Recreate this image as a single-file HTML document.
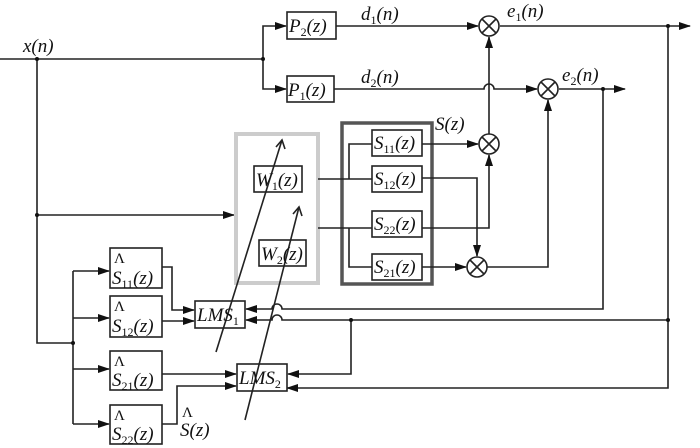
<!DOCTYPE html>
<html><head><meta charset="utf-8"><style>
html,body{margin:0;padding:0;background:#fff;width:700px;height:448px;overflow:hidden}
text{font-family:"Liberation Serif",serif;font-style:italic;font-size:19px;fill:#111}
.s{font-size:12px;font-style:normal}
</style></head><body>
<svg width="700" height="448" viewBox="0 0 700 448" xmlns="http://www.w3.org/2000/svg">
<defs>
<marker id="a" markerWidth="12" markerHeight="10" refX="11" refY="4" orient="auto" markerUnits="userSpaceOnUse">
<path d="M0,0 L12,4 L0,8 Z" fill="#111"/></marker>
</defs>
<g fill="none" stroke="#222" stroke-width="1.6">
<path d="M0,59 H263"/>
<path d="M263,59 V26 H286" marker-end="url(#a)"/>
<path d="M263,59 V89 H286" marker-end="url(#a)"/>
<rect x="287" y="12" width="49" height="27"/>
<rect x="287" y="76" width="47" height="26"/>
<path d="M336,26 H478" marker-end="url(#a)"/>
<path d="M334,89 H484 a5,5 0 0 1 10,0 H537" marker-end="url(#a)"/>
<circle cx="489" cy="26" r="10"/><path d="M482,19 L496,33 M496,19 L482,33"/>
<circle cx="548" cy="89" r="10"/><path d="M541,82 L555,96 M555,82 L541,96"/>
<circle cx="489" cy="144" r="10"/><path d="M482,137 L496,151 M496,137 L482,151"/>
<circle cx="477" cy="267" r="10"/><path d="M470,260 L484,274 M484,260 L470,274"/>
<path d="M500,26 H690" marker-end="url(#a)"/>
<path d="M559,89 H625" marker-end="url(#a)"/>
<path d="M489,134 V37" marker-end="url(#a)"/>
<path d="M668,26 V388 H287" marker-end="url(#a)"/>
<path d="M603,89 V309 H282 a5,5 0 0 0 -10,0 H246" marker-end="url(#a)"/>
<path d="M668,320 H282 a5,5 0 0 0 -10,0 H246" marker-end="url(#a)"/>
<path d="M351,320 V374 H288" marker-end="url(#a)"/>
<path d="M37,59 V343 H73"/>
<path d="M37,215 H234" marker-end="url(#a)"/>
<path d="M73,271 V424"/>
<path d="M73,271 H109" marker-end="url(#a)"/>
<path d="M73,318 H109" marker-end="url(#a)"/>
<path d="M73,369 H109" marker-end="url(#a)"/>
<path d="M73,424 H109" marker-end="url(#a)"/>
<rect x="110" y="248" width="52" height="40"/>
<rect x="110" y="296" width="52" height="41"/>
<rect x="110" y="351" width="52" height="39"/>
<rect x="110" y="405" width="52" height="39"/>
<path d="M162,267 H172 V310 H194" marker-end="url(#a)"/>
<path d="M162,321 H194" marker-end="url(#a)"/>
<path d="M162,374 H236" marker-end="url(#a)"/>
<path d="M162,424 H177 V386 H236" marker-end="url(#a)"/>
<rect x="195" y="301" width="50" height="27" fill="#fff"/>
<rect x="237" y="364" width="50" height="27" fill="#fff"/>
<rect x="236" y="134" width="82" height="149" stroke="#ccc" stroke-width="4"/>
<rect x="254" y="166" width="48" height="26" fill="#fff"/>
<rect x="259" y="240" width="47" height="26" fill="#fff"/>
<rect x="342" y="123" width="90" height="161" stroke="#555" stroke-width="3.5"/>
<rect x="372" y="130" width="50" height="26"/>
<rect x="372" y="166" width="50" height="26"/>
<rect x="372" y="211" width="50" height="26"/>
<rect x="372" y="254" width="50" height="26"/>
<path d="M318,179 H372 M349,179 V144 H372"/>
<path d="M318,228 H372 M349,228 V267 H372"/>
<path d="M422,144 H478" marker-end="url(#a)"/>
<path d="M422,178 H477 V256" marker-end="url(#a)"/>
<path d="M422,228 H489 V155" marker-end="url(#a)"/>
<path d="M422,267 H466" marker-end="url(#a)"/>
<path d="M487,267 H548 V100" marker-end="url(#a)"/>
<path d="M216,352 L282,140"/><path d="M276,147 L282,140 L285,149"/>
<path d="M245,420 L299,207"/><path d="M293,214 L299,207 L302,216"/>
</g>
<circle cx="37" cy="59" r="2" fill="#111"/>
<circle cx="263" cy="59" r="2" fill="#111"/>
<circle cx="37" cy="215" r="2" fill="#111"/>
<circle cx="73" cy="343" r="2" fill="#111"/>
<circle cx="668" cy="26" r="2" fill="#111"/>
<circle cx="603" cy="89" r="2" fill="#111"/>
<circle cx="668" cy="320" r="2" fill="#111"/>
<circle cx="351" cy="320" r="2" fill="#111"/>
<text x="23" y="52">x(n)</text>
<text x="289" y="32">P<tspan class="s" dy="4">2</tspan><tspan dy="-4">(z)</tspan></text>
<text x="288" y="96">P<tspan class="s" dy="4">1</tspan><tspan dy="-4">(z)</tspan></text>
<text x="361" y="20">d<tspan class="s" dy="4">1</tspan><tspan dy="-4">(n)</tspan></text>
<text x="361" y="83">d<tspan class="s" dy="4">2</tspan><tspan dy="-4">(n)</tspan></text>
<text x="507" y="17">e<tspan class="s" dy="4">1</tspan><tspan dy="-4">(n)</tspan></text>
<text x="562" y="81">e<tspan class="s" dy="4">2</tspan><tspan dy="-4">(n)</tspan></text>
<text x="435" y="130">S(z)</text>
<text x="256" y="186">W<tspan class="s" dy="4">1</tspan><tspan dy="-4">(z)</tspan></text>
<text x="261" y="260">W<tspan class="s" dy="4">2</tspan><tspan dy="-4">(z)</tspan></text>
<text x="374" y="149">S<tspan class="s" dy="4">11</tspan><tspan dy="-4">(z)</tspan></text>
<text x="374" y="185">S<tspan class="s" dy="4">12</tspan><tspan dy="-4">(z)</tspan></text>
<text x="374" y="230">S<tspan class="s" dy="4">22</tspan><tspan dy="-4">(z)</tspan></text>
<text x="374" y="273">S<tspan class="s" dy="4">21</tspan><tspan dy="-4">(z)</tspan></text>
<text x="114" y="263" style="font-style:normal;font-size:15px">Λ</text>
<text x="114" y="311" style="font-style:normal;font-size:15px">Λ</text>
<text x="114" y="366" style="font-style:normal;font-size:15px">Λ</text>
<text x="114" y="420" style="font-style:normal;font-size:15px">Λ</text>
<text x="182" y="417" style="font-style:normal;font-size:15px">Λ</text>
<text x="112" y="284">S<tspan class="s" dy="4">11</tspan><tspan dy="-4">(z)</tspan></text>
<text x="112" y="332">S<tspan class="s" dy="4">12</tspan><tspan dy="-4">(z)</tspan></text>
<text x="112" y="386">S<tspan class="s" dy="4">21</tspan><tspan dy="-4">(z)</tspan></text>
<text x="112" y="440">S<tspan class="s" dy="4">22</tspan><tspan dy="-4">(z)</tspan></text>
<text x="180" y="436">S(z)</text>
<text x="197" y="321">LMS<tspan class="s" dy="4">1</tspan></text>
<text x="239" y="384">LMS<tspan class="s" dy="4">2</tspan></text>
</svg>
</body></html>
